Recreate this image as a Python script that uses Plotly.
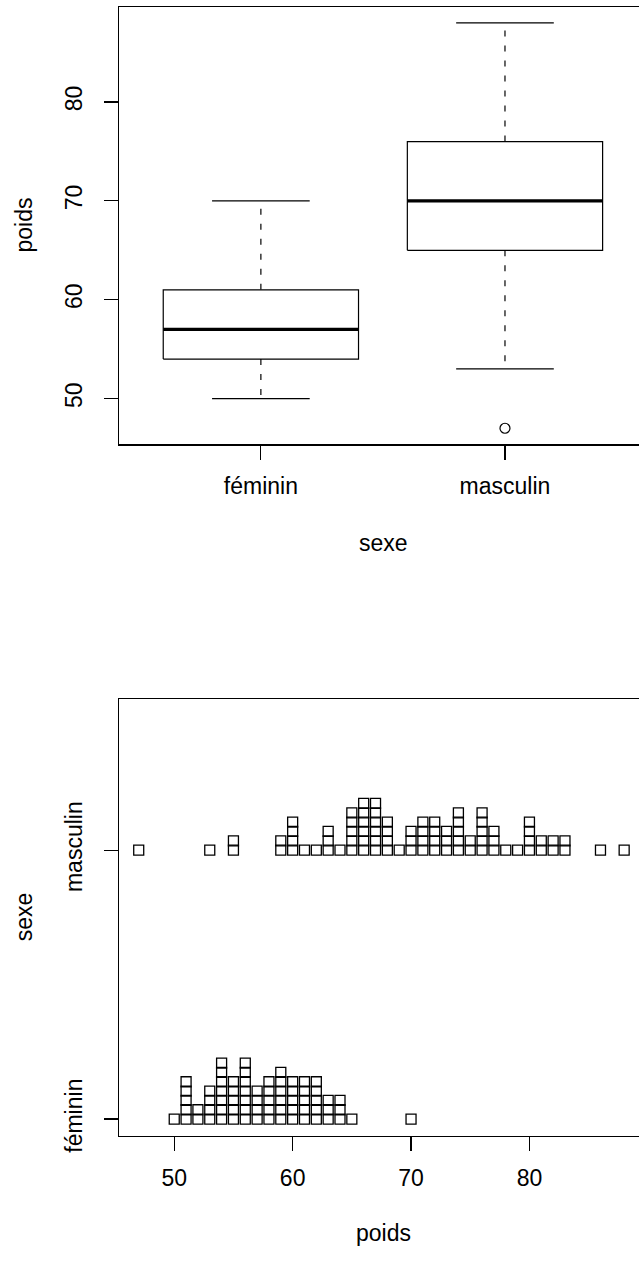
import numpy as np
import plotly.graph_objects as go

# ---------------- data ----------------
categories = ["féminin", "masculin"]
fem_values = [50, 51, 52, 53, 54, 55, 56, 57, 58, 59, 60, 61, 62, 63, 64, 65, 70]
fem_counts = [1, 5, 2, 4, 7, 5, 7, 4, 5, 6, 5, 5, 5, 3, 3, 1, 1]
masc_values = [47, 53, 55, 59, 60, 61, 62, 63, 64, 65, 66, 67, 68, 69, 70, 71,
               72, 73, 74, 75, 76, 77, 78, 79, 80, 81, 82, 83, 86, 88]
masc_counts = [1, 1, 2, 2, 4, 1, 1, 3, 1, 5, 6, 6, 4, 1, 3, 4, 4, 3, 5, 2, 5,
               3, 1, 1, 4, 2, 2, 2, 1, 1]
poids_ticks = [50, 60, 70, 80]

groups = [(fem_values, fem_counts), (masc_values, masc_counts)]

# ---------------- layout constants ----------------
W, H = 639, 1268
FONT = "Liberation Sans, Arial, Helvetica, sans-serif"
FS = 23
BLACK = "#000000"
LEFT_PX = 119.3
x_dom = [LEFT_PX / W, 1.0]
top_dom = [1 - 450.5 / H, 1 - 6.8 / H]
bot_dom = [1 - 1151.3 / H, 1 - 708.3 / H]
BOX_HALF = 0.4
CAP_HALF = 0.2
STACK_STEP = 0.0347


def fivenum(x):
    x = np.sort(np.asarray(x, dtype=float))
    n = len(x)
    n4 = np.floor((n + 3) / 2) / 2
    d = np.array([1, n4, (n + 1) / 2, n + 1 - n4, n])
    return 0.5 * (x[np.floor(d).astype(int) - 1] + x[np.ceil(d).astype(int) - 1])


fig = go.Figure()

# ---------------- top: boxplot ----------------
for i, (vals, cnts) in enumerate(groups):
    data = np.repeat(vals, cnts)
    mn, q1, med, q3, mx = fivenum(data)
    iqr = q3 - q1
    inside = data[(data >= q1 - 1.5 * iqr) & (data <= q3 + 1.5 * iqr)]
    lo, hi = inside.min(), inside.max()
    outl = data[(data < lo) | (data > hi)]
    c = i + 1
    line = dict(color=BLACK, width=1.2)
    for a, b in [(q3, hi), (q1, lo)]:
        fig.add_trace(go.Scatter(x=[c, c], y=[a, b], mode="lines",
                                 line=dict(color=BLACK, width=1.2, dash="6px,9px"),
                                 xaxis="x", yaxis="y", hoverinfo="skip"))
    for v in [hi, lo]:
        fig.add_trace(go.Scatter(x=[c - CAP_HALF, c + CAP_HALF], y=[v, v], mode="lines",
                                 line=line, xaxis="x", yaxis="y", hoverinfo="skip"))
    fig.add_trace(go.Scatter(x=[c - BOX_HALF, c + BOX_HALF, c + BOX_HALF, c - BOX_HALF, c - BOX_HALF],
                             y=[q1, q1, q3, q3, q1], mode="lines", fill="toself",
                             fillcolor="white", line=line, xaxis="x", yaxis="y",
                             hoverinfo="skip"))
    fig.add_trace(go.Scatter(x=[c - BOX_HALF, c + BOX_HALF], y=[med, med], mode="lines",
                             line=dict(color=BLACK, width=3.3), xaxis="x", yaxis="y",
                             hoverinfo="skip"))
    if len(outl):
        fig.add_trace(go.Scatter(x=[c] * len(outl), y=outl, mode="markers",
                                 marker=dict(symbol="circle-open", size=10,
                                             color=BLACK, line=dict(width=1.2)),
                                 xaxis="x", yaxis="y", hoverinfo="skip"))

# ---------------- bottom: stacked strip chart ----------------
for i, (vals, cnts) in enumerate(groups):
    xs, ys = [], []
    for v, n in zip(vals, cnts):
        for k in range(n):
            xs.append(v)
            ys.append(i + 1 + k * STACK_STEP)
    fig.add_trace(go.Scatter(x=xs, y=ys, mode="markers",
                             marker=dict(symbol="square-open", size=10, color=BLACK,
                                         line=dict(width=1.3)),
                             xaxis="x2", yaxis="y2", hoverinfo="skip"))

axis_common = dict(showline=True, linecolor=BLACK, linewidth=1.2, showgrid=False,
                   zeroline=False, ticks="outside", ticklen=14, tickwidth=1.2,
                   tickcolor=BLACK, tickfont=dict(family=FONT, size=FS, color=BLACK),
                   fixedrange=True)

fig.update_layout(
    width=W, height=H,
    margin=dict(l=0, r=0, t=0, b=0, pad=0),
    paper_bgcolor="white", plot_bgcolor="white",
    showlegend=False,
    font=dict(family=FONT, size=FS, color=BLACK),
    xaxis=dict(domain=x_dom, anchor="y", range=[0.42, 0.42 + (W - LEFT_PX) / 244.1],
               tickmode="array", tickvals=[1, 2], ticktext=categories,
               mirror=True, ticklabelstandoff=7, **axis_common),
    yaxis=dict(domain=top_dom, anchor="x", range=[45.36, 89.64],
               tickmode="array", tickvals=[50, 60, 70, 80], tickangle=-90,
               ticklabelstandoff=13, **axis_common),
    xaxis2=dict(domain=x_dom, anchor="y2", range=[45.36, 45.36 + (W - LEFT_PX) / 11.84],
                tickmode="array", tickvals=poids_ticks,
                mirror=True, ticklabelstandoff=7, **axis_common),
    yaxis2=dict(domain=bot_dom, anchor="x2", range=[0.9376, 2.5627],
                tickmode="array", tickvals=[1, 2], ticktext=categories, tickangle=-90,
                ticklabelstandoff=13, **axis_common),
    annotations=[
        dict(text="sexe", xref="paper", yref="paper", x=383 / W, y=1 - 550 / H,
             xanchor="center", yanchor="middle", showarrow=False,
             font=dict(family=FONT, size=FS, color=BLACK)),
        dict(text="poids", xref="paper", yref="paper", x=383 / W, y=1 - 1250 / H,
             xanchor="center", yanchor="middle", showarrow=False,
             font=dict(family=FONT, size=FS, color=BLACK)),
        dict(text="poids", xref="paper", yref="paper", x=24 / W, y=1 - 228.6 / H,
             xanchor="center", yanchor="middle", showarrow=False, textangle=-90,
             font=dict(family=FONT, size=FS, color=BLACK)),
        dict(text="sexe", xref="paper", yref="paper", x=24 / W, y=1 - 929.8 / H,
             xanchor="center", yanchor="middle", showarrow=False, textangle=-90,
             font=dict(family=FONT, size=FS, color=BLACK)),
    ],
)

fig.write_html("out.html", config={"displayModeBar": False, "staticPlot": True},
               post_script="document.body.style.margin='0';"
                           "document.body.style.overflow='hidden';")
